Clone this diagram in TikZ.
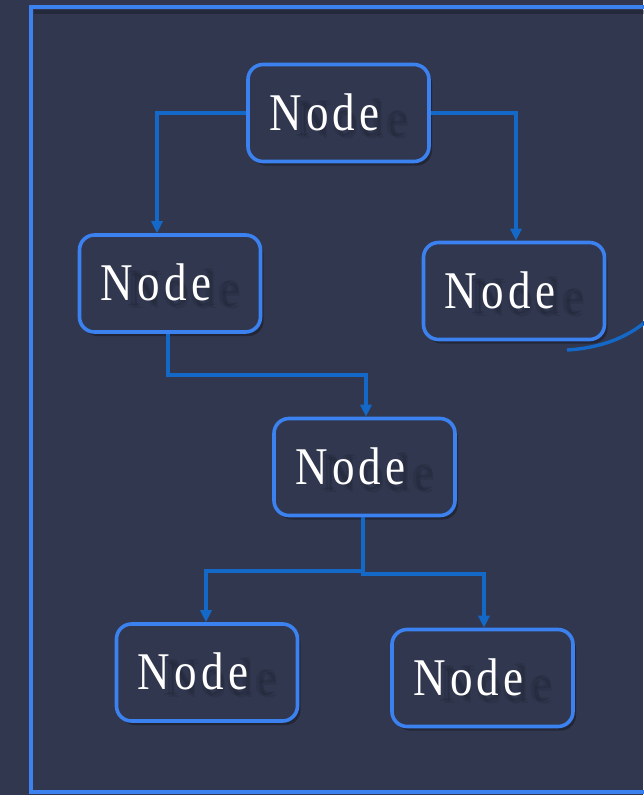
\documentclass[tikz,border=0pt]{standalone}
\usepackage{fontspec}
\newfontfamily\lblfont{Liberation Serif}[FakeStretch=0.85, LetterSpace=8]
\usetikzlibrary{arrows.meta,shadows,calc}
\definecolor{bgcol}{HTML}{31374F}
\definecolor{framecol}{HTML}{3B82F0}
\definecolor{linkcol}{HTML}{1468C8}
\definecolor{ghostcol}{HTML}{1A1E2C}
\tikzset{
  box/.style={draw=framecol, fill=bgcol, line width=3.6pt, rounded corners=15pt,
    minimum width=181pt, minimum height=97pt, inner sep=0pt,
    drop shadow={shadow xshift=3pt, shadow yshift=-4pt, opacity=0.3, fill=black}},
  label/.style={text=white, inner sep=0pt, font=\lblfont\fontsize{53}{53}\selectfont},
  ghost/.style={text=ghostcol, opacity=0.2, inner sep=0pt, font=\lblfont\fontsize{53}{53}\selectfont},
  link/.style={draw=linkcol, line width=3.4pt, -{Triangle[width=11pt,length=12pt]}},
}
\newcommand{\boxtitle}[1]{%
  \foreach \dx/\dy in {-2/-1,2/1,1/-2} {
    \node[ghost] at ($(#1)+(14+\dx,6+\dy)$) {Node};
  }
  \node[label] (#1-t) at ($(#1)+(-14,-1)$) {Node};
}
\begin{document}
\begin{tikzpicture}[x=1pt,y=-1pt]
  \fill[bgcol] (0,0) rectangle (643,795);
  \useasboundingbox (0,0) rectangle (643,795);
  % outer frame
  \draw[black, opacity=0.25, line width=4pt] (34,12) -- (660,12);
  \draw[framecol, line width=4pt] (660,7) -- (31,7) -- (31,792) -- (660,792);

  % boxes
  \node[box] (a) at (338.5,113) {};
  \node[box] (b) at (170,283.5) {};
  \node[box] (c) at (514,291) {};
  \node[box] (d) at (364.5,467) {};
  \node[box] (e) at (207,672.5) {};
  \node[box] (f) at (482.5,678) {};

  \foreach \n in {a,b,c,d,e,f} { \boxtitle{\n} }

  % connectors
  \draw[link] (a.west) -| ($(b.north)+(-13,0)$);
  \draw[link] (a.east) -| ($(c.north)+(2,0)$);
  \coordinate (bd) at (168,375);
  \draw[link] ($(b.south)+(-2,0)$) |- (bd) -| ($(d.north)+(1.5,0)$);
  \coordinate (dl) at (363,571);
  \coordinate (dr) at (363,574);
  \draw[link] ($(d.south)+(-1.5,0)$) -- (dr) -| ($(f.north)+(1.5,0)$);
  \draw[link] (dl) -| ($(e.north)+(-1,0)$);

  % curve leaving to the right
  \coordinate (cv0) at (567,350);
  \coordinate (cv1) at (650,318);
  \draw[linkcol, line width=3.4pt] (cv0) .. controls (600,348) and (628,338) .. (cv1);
\end{tikzpicture}
\end{document}
